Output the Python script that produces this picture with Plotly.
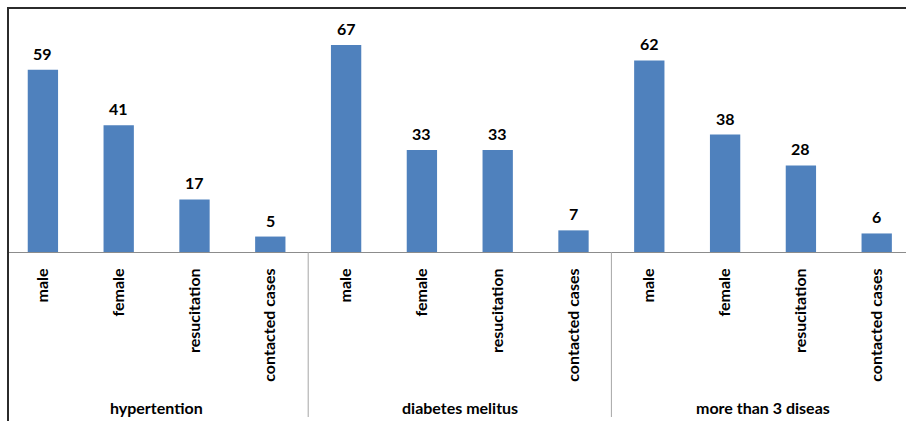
import plotly.graph_objects as go

# Grouped counts: three disease groups, four measures each
groups = ["hypertention", "diabetes melitus", "more than 3 diseas"]
measures = ["male", "female", "resucitation", "contacted cases"]
values = [
    [59, 41, 17, 5],
    [67, 33, 33, 7],
    [62, 38, 28, 6],
]

# One unique category per bar, labelled with its measure name
cats = [f"{g} / {m}" for g in groups for m in measures]
tick_text = [m for _ in groups for m in measures]
flat = [v for row in values for v in row]

BAR = "#4F81BD"
FONT = "Lato"
BOLD = dict(family=FONT, size=16, color="#000000", weight="bold")

W, H = 906, 421
ML, MT, MB = 8, 8, 169
plot_w = W - ML
plot_h = H - MT - MB
cat_px = 75.8
x_lo = -0.5 + 3 / cat_px
x_hi = x_lo + plot_w / cat_px

fig = go.Figure(
    go.Bar(
        x=cats,
        y=flat,
        marker=dict(color=BAR, line=dict(width=0)),
        hoverinfo="skip",
    )
)

# Value labels above each bar
for c, v in zip(cats, flat):
    fig.add_annotation(
        x=c, y=v, xref="x", yref="y",
        text=str(v), showarrow=False,
        yanchor="bottom", yshift=5,
        font=BOLD,
    )

px_x = lambda p: (p - ML) / plot_w
px_y = lambda p: 1 - (p - MT) / plot_h

# Group names centred under each block of four bars
n = len(measures)
for k, g in enumerate(groups):
    fig.add_annotation(
        x=k * n + (n - 1) / 2, y=px_y(407), xref="x", yref="paper",
        text=g, showarrow=False, yanchor="middle",
        font=BOLD,
    )

# Separators between groups
for k in range(1, len(groups)):
    fig.add_shape(type="line", xref="x", yref="paper",
                  x0=k * n - 0.5, x1=k * n - 0.5, y0=px_y(252), y1=px_y(417),
                  line=dict(color="#a6a6a6", width=1))

# Frame lines on the left and top edges
fig.add_shape(type="line", xref="paper", yref="paper",
              x0=px_x(8), x1=px_x(8), y0=px_y(7), y1=px_y(H),
              line=dict(color="#2b2b2b", width=2))
fig.add_shape(type="line", xref="paper", yref="paper",
              x0=px_x(7), x1=px_x(W), y0=px_y(8), y1=px_y(8),
              line=dict(color="#2b2b2b", width=2))

fig.update_layout(
    width=W,
    height=H,
    margin=dict(l=ML, r=0, t=MT, b=MB, pad=0),
    paper_bgcolor="white",
    plot_bgcolor="white",
    bargap=0.6,
    showlegend=False,
    font=dict(family=FONT, size=16, color="#000000"),
    xaxis=dict(
        type="category",
        range=[x_lo, x_hi],
        tickmode="array",
        tickvals=cats,
        ticktext=tick_text,
        tickangle=-90,
        showline=True,
        linecolor="#8c8c8c",
        linewidth=1,
        showgrid=False,
        ticks="",
        ticklabelstandoff=9,
        tickfont=BOLD,
        fixedrange=True,
    ),
    yaxis=dict(
        range=[0, plot_h / 3.09],
        visible=False,
        showgrid=False,
        zeroline=False,
        fixedrange=True,
    ),
)

fig.write_html("out.html", config={"displayModeBar": False})
